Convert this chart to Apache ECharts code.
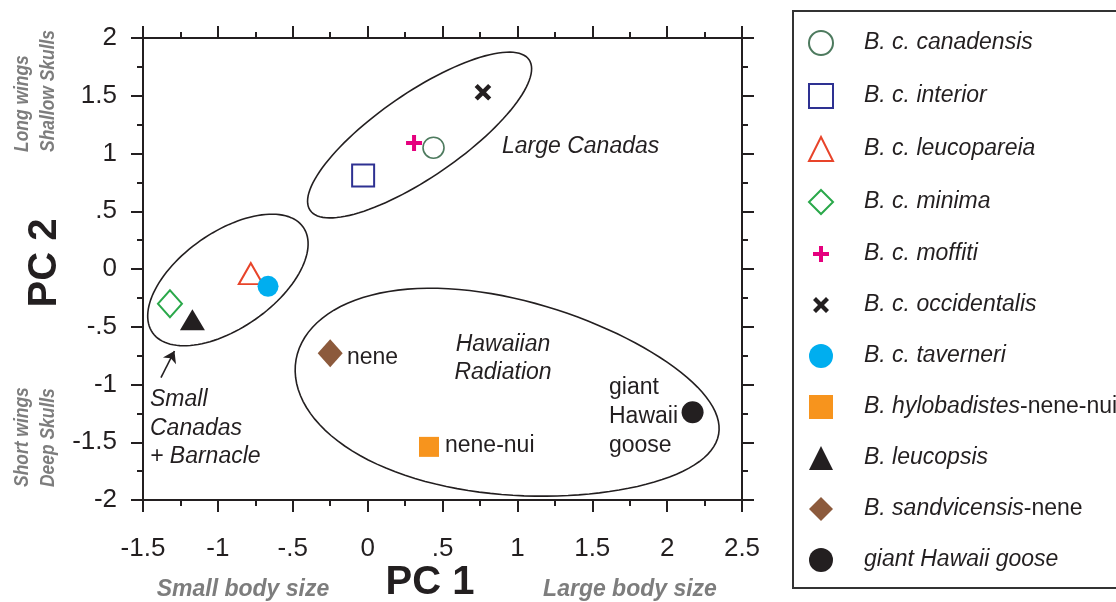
<!DOCTYPE html>
<html>
<head>
<meta charset="utf-8">
<script src="https://cdn.jsdelivr.net/npm/echarts@6/dist/echarts.min.js"></script>
<style>
  html, body { margin: 0; padding: 0; background: #fff; }
  #chart { width: 1116px; height: 602px; }
</style>
</head>
<body>
<div id="chart"></div>
<script>
// PCA scores
const speciesNames = [
  'B. c. canadensis', 'B. c. interior', 'B. c. leucopareia', 'B. c. minima',
  'B. c. moffiti', 'B. c. occidentalis', 'B. c. taverneri',
  'B. hylobadistes-nene-nui', 'B. leucopsis', 'B. sandvicensis-nene', 'giant Hawaii goose'
];
const pc1 = [0.44, -0.03, -0.78, -1.32, 0.31, 0.77, -0.665, 0.41, -1.17, -0.25, 2.17];
const pc2 = [1.05, 0.81, -0.04, -0.30, 1.09, 1.53, -0.15, -1.54, -0.44, -0.73, -1.24];

// axis ranges
const xRange = [-1.5, 2.5];
const yRange = [-2, 2];
const tickStep = 0.5;

// group outlines: centre + two half-axis vectors, in PC units
const groupCentres = [[0.347, 1.160], [-0.933, -0.095], [0.933, -1.108]];
const groupAxisA = [[0.731, 0.652], [0.503, 0.457], [1.411, -0.323]];
const groupAxisB = [[0.159, -0.300], [0.184, -0.340], [0.113, 0.835]];
const groupEgg = [0, 0, 0.15];

// arrow pointing at the small canadas group
const arrowFrom = [-1.38, -0.94];
const arrowTo = [-1.29, -0.71];

const INK = '#231f20';
const GREY = '#7d7d7d';
const FONT = 'Liberation Sans, Arial, Helvetica, sans-serif';

const PLUS = 'path://M0,0 M24,24 M10,4 L14,4 L14,10 L20,10 L20,14 L14,14 L14,20 L10,20 L10,14 L4,14 L4,10 L10,10 Z';
const CROSS = 'path://M0,0 M24,24 M4,7 L7,4 L12,9 L17,4 L20,7 L15,12 L20,17 L17,20 L12,15 L7,20 L4,17 L9,12 Z';

const markerStyles = [
  { symbol: 'circle', size: 21, fill: '#fff', stroke: '#4d7a5e', bw: 1.6 },
  { symbol: 'rect', size: 22, fill: '#fff', stroke: '#2e3192', bw: 2 },
  { symbol: 'triangle', size: [24, 21], fill: '#fff', stroke: '#e8442a', bw: 2 },
  { symbol: 'diamond', size: [24, 27], fill: '#fff', stroke: '#2aa84a', bw: 2 },
  { symbol: PLUS, size: 24, fill: '#e5007e' },
  { symbol: CROSS, size: 25, fill: INK },
  { symbol: 'circle', size: 21, fill: '#00aeef' },
  { symbol: 'rect', size: 20, fill: '#f7941d' },
  { symbol: 'triangle', size: [25, 21], fill: INK },
  { symbol: 'diamond', size: [25, 28], fill: '#8c5a3c' },
  { symbol: 'circle', size: 22, fill: INK }
];

const chart = echarts.init(document.getElementById('chart'));

function tickLabel(v) {
  if (v === 0) return '0';
  return String(v).replace('0.', '.');
}

function makeAxis(pos, range, margin, labels, pad) {
  return {
    type: 'value',
    position: pos,
    min: range[0],
    max: range[1],
    interval: tickStep,
    axisLine: { show: true, onZero: false, lineStyle: { color: INK, width: 2 } },
    axisTick: { show: true, inside: false, length: 12, lineStyle: { color: INK, width: 2 } },
    minorTick: { show: true, splitNumber: 2, length: 6, lineStyle: { color: INK, width: 2 } },
    splitLine: { show: false },
    minorSplitLine: { show: false },
    axisLabel: {
      show: labels,
      showMinLabel: true,
      showMaxLabel: true,
      fontSize: 26,
      fontFamily: FONT,
      color: INK,
      margin: margin,
      padding: pad || 0,
      formatter: tickLabel
    }
  };
}

function legendLabel(name) {
  if (name === 'B. hylobadistes-nene-nui') return '{i|B. hylobadistes}{n|-nene-nui}';
  if (name === 'B. sandvicensis-nene') return '{i|B. sandvicensis}{n|-nene}';
  return '{i|' + name + '}';
}

function txt(x, y, text, opt) {
  opt = opt || {};
  return {
    type: 'text',
    x: x,
    y: y,
    rotation: opt.rotation || 0,
    scaleX: opt.squeeze || 1,
    silent: true,
    style: {
      text: text,
      fill: opt.color || INK,
      fontSize: opt.size || 23,
      fontFamily: FONT,
      fontStyle: opt.italic ? 'italic' : 'normal',
      fontWeight: opt.bold ? 'bold' : 'normal',
      align: opt.align || 'left',
      verticalAlign: 'middle'
    }
  };
}

const scatterSeries = speciesNames.map((name, i) => {
  const st = markerStyles[i];
  return {
    type: 'scatter',
    name: name,
    data: [[pc1[i], pc2[i]]],
    symbol: st.symbol,
    symbolSize: st.size,
    itemStyle: {
      color: st.fill,
      borderColor: st.stroke || st.fill,
      borderWidth: st.stroke ? st.bw : 0,
      opacity: 1
    },
    z: 5
  };
});

const outlineSeries = {
  type: 'custom',
  silent: true,
  z: 2,
  clip: false,
  dimensions: ['x', 'y', 'k'],
  encode: { x: 0, y: 1 },
  data: groupCentres.map((c, i) => [c[0], c[1], i]),
  renderItem: function (params, api) {
    const k = api.value(2);
    const c = groupCentres[k], a = groupAxisA[k], b = groupAxisB[k], egg = groupEgg[k];
    const pts = [];
    for (let s = 0; s < 120; s++) {
      const t = s / 120 * Math.PI * 2;
      const ct = Math.cos(t), sb = Math.sin(t) * (1 - egg * ct);
      pts.push(api.coord([c[0] + ct * a[0] + sb * b[0], c[1] + ct * a[1] + sb * b[1]]));
    }
    return {
      type: 'polygon',
      shape: { points: pts },
      style: { fill: 'none', stroke: INK, lineWidth: 1.6 }
    };
  }
};

const arrowSeries = {
  type: 'lines',
  coordinateSystem: 'cartesian2d',
  silent: true,
  z: 4,
  symbol: ['none', 'arrow'],
  symbolSize: 11,
  lineStyle: { color: INK, width: 1.6, opacity: 1 },
  data: [{ coords: [arrowFrom, arrowTo] }]
};

chart.setOption({
  animation: false,
  backgroundColor: '#fff',
  grid: { left: 143, right: 374, top: 38, bottom: 102 },
  xAxis: [makeAxis('bottom', xRange, 36, true), makeAxis('top', xRange, 8, false)],
  yAxis: [makeAxis('left', yRange, 26, true, [8, 0, 0, 0]), makeAxis('right', yRange, 8, false)],
  legend: {
    data: speciesNames,
    orient: 'vertical',
    left: 808,
    top: 30,
    padding: 0,
    itemWidth: 24,
    itemHeight: 24,
    itemGap: 27,
    selectedMode: false,
    formatter: legendLabel,
    textStyle: {
      color: INK,
      fontSize: 23,
      fontFamily: FONT,
      padding: [0, 0, 0, 26],
      rich: {
        i: { fontSize: 23, fontFamily: FONT, fontStyle: 'italic', color: INK },
        n: { fontSize: 23, fontFamily: FONT, fontStyle: 'normal', color: INK }
      }
    }
  },
  graphic: [
    {
      type: 'rect',
      silent: true,
      shape: { x: 793, y: 11, width: 340, height: 577 },
      style: { fill: 'none', stroke: '#333', lineWidth: 2 }
    },
    txt(502, 147, 'Large Canadas', { italic: true }),
    txt(347, 358, 'nene'),
    txt(503, 345, 'Hawaiian', { italic: true, align: 'center' }),
    txt(503, 373, 'Radiation', { italic: true, align: 'center' }),
    txt(445, 446, 'nene-nui'),
    txt(609, 388, 'giant'),
    txt(609, 417, 'Hawaii'),
    txt(609, 446, 'goose'),
    txt(150, 400, 'Small', { italic: true }),
    txt(150, 429, 'Canadas', { italic: true }),
    txt(150, 457, '+ Barnacle', { italic: true }),
    txt(430, 583, 'PC 1', { bold: true, size: 40, align: 'center' }),
    txt(45, 263, 'PC 2', { bold: true, size: 40, align: 'center', rotation: Math.PI / 2 }),
    txt(243, 590, 'Small body size', { bold: true, italic: true, color: GREY, align: 'center' }),
    txt(630, 590, 'Large body size', { bold: true, italic: true, color: GREY, align: 'center' }),
    txt(22, 152, 'Long wings', { bold: true, italic: true, color: GREY, size: 21, squeeze: 0.83, rotation: Math.PI / 2 }),
    txt(48, 152, 'Shallow Skulls', { bold: true, italic: true, color: GREY, size: 21, squeeze: 0.83, rotation: Math.PI / 2 }),
    txt(22, 487, 'Short wings', { bold: true, italic: true, color: GREY, size: 21, squeeze: 0.83, rotation: Math.PI / 2 }),
    txt(48, 487, 'Deep Skulls', { bold: true, italic: true, color: GREY, size: 21, squeeze: 0.83, rotation: Math.PI / 2 })
  ],
  series: [outlineSeries, arrowSeries].concat(scatterSeries)
});
</script>
</body>
</html>
